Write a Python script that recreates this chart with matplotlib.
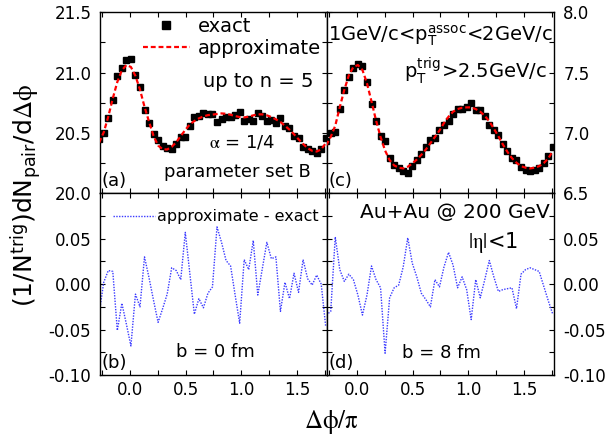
import matplotlib
matplotlib.use('Agg')
import matplotlib.pyplot as plt
import numpy as np
from matplotlib.ticker import MultipleLocator, FormatStrFormatter, FixedLocator
from matplotlib.lines import Line2D

plt.rcParams['font.family'] = 'DejaVu Sans'
plt.rcParams['mathtext.fontset'] = 'stix'
plt.rcParams['axes.unicode_minus'] = False

# delta phi / pi grid (51 bins)
dphi = np.linspace(-0.277, 1.759, 51)

# b = 0 fm, panel (a)/(b)
approx_b0 = [20.420, 20.505, 20.635, 20.786, 20.923, 21.019, 21.063, 21.047, 20.973, 20.860,
             20.717, 20.593, 20.475, 20.396, 20.365, 20.363, 20.385, 20.423, 20.475, 20.525,
             20.571, 20.599, 20.621, 20.637, 20.648, 20.652, 20.657, 20.662, 20.659, 20.651,
             20.640, 20.632, 20.629, 20.635, 20.646, 20.654, 20.654, 20.646, 20.632, 20.613,
             20.591, 20.560, 20.527, 20.489, 20.448, 20.409, 20.374, 20.352, 20.346, 20.365,
             20.415]
exact_b0 = [20.452, 20.503, 20.620, 20.772, 20.974, 21.040, 21.107, 21.115, 20.984, 20.885,
            20.687, 20.586, 20.493, 20.438, 20.392, 20.374, 20.367, 20.408, 20.470, 20.468,
            20.559, 20.632, 20.637, 20.663, 20.658, 20.655, 20.594, 20.616, 20.633, 20.631,
            20.652, 20.675, 20.602, 20.619, 20.598, 20.666, 20.637, 20.600, 20.604, 20.583,
            20.621, 20.558, 20.543, 20.477, 20.457, 20.382, 20.368, 20.353, 20.336, 20.365,
            20.462]
diff_b0 = [-0.032, 0.002, 0.015, 0.014, -0.051, -0.021, -0.044, -0.068, -0.011, -0.025,
           0.030, 0.007, -0.018, -0.042, -0.027, -0.011, 0.018, 0.015, 0.005, 0.057,
           0.012, -0.033, -0.016, -0.026, -0.010, -0.003, 0.063, 0.046, 0.026, 0.020,
           -0.012, -0.043, 0.027, 0.016, 0.048, -0.012, 0.017, 0.046, 0.028, 0.030,
           -0.030, 0.002, -0.016, 0.012, -0.009, 0.027, 0.006, -0.001, 0.010, 0.000,
           -0.047]

# b = 8 fm, panel (c)/(d)
approx_b8 = [6.898, 6.967, 7.060, 7.214, 7.357, 7.478, 7.547, 7.563, 7.522, 7.412,
             7.261, 7.104, 6.967, 6.854, 6.775, 6.731, 6.712, 6.706, 6.720, 6.747,
             6.780, 6.819, 6.863, 6.915, 6.967, 7.020, 7.082, 7.135, 7.176, 7.198,
             7.209, 7.212, 7.212, 7.198, 7.176, 7.143, 7.096, 7.036, 6.973, 6.904,
             6.843, 6.791, 6.753, 6.725, 6.712, 6.706, 6.712, 6.725, 6.750, 6.788,
             6.850]
exact_b8 = [6.932, 6.997, 7.008, 7.198, 7.354, 7.467, 7.542, 7.575, 7.556, 7.424,
            7.241, 7.099, 6.971, 6.930, 6.790, 6.735, 6.713, 6.687, 6.669, 6.724,
            6.772, 6.829, 6.880, 6.940, 6.962, 7.023, 7.063, 7.100, 7.155, 7.202,
            7.201, 7.218, 7.251, 7.193, 7.191, 7.138, 7.070, 7.028, 6.981, 6.910,
            6.848, 6.795, 6.780, 6.714, 6.696, 6.688, 6.696, 6.711, 6.752, 6.806,
            6.883]
diff_b8 = [-0.034, -0.030, 0.052, 0.016, 0.003, 0.011, 0.005, -0.012, -0.034, -0.012,
           0.020, 0.005, -0.004, -0.076, -0.015, -0.004, -0.001, 0.019, 0.051, 0.023,
           0.008, -0.010, -0.017, -0.025, 0.005, -0.003, 0.019, 0.035, 0.021, -0.004,
           0.008, -0.006, -0.039, 0.005, -0.015, 0.005, 0.026, 0.008, -0.008, -0.006,
           -0.005, -0.004, -0.027, 0.011, 0.016, 0.018, 0.016, 0.014, -0.002, -0.018,
           -0.033]

red = '#ff0000'
blue = '#3a3aff'
dash = (0, (2.2, 1.3))
dots = (0, (1, 1))

fig = plt.figure(figsize=(6.15, 4.38), dpi=100)
axa = fig.add_axes([0.1631, 0.5587, 0.3691, 0.4132])
axc = fig.add_axes([0.5322, 0.5587, 0.3691, 0.4132])
axb = fig.add_axes([0.1631, 0.1438, 0.3691, 0.4149])
axd = fig.add_axes([0.5322, 0.1438, 0.3691, 0.4149])


def style(ax, ylim, ymajor, yminor, yfmt, right=False, bottom=False):
    ax.set_xlim(-0.267, 1.773)
    ax.set_ylim(*ylim)
    ax.xaxis.set_major_locator(FixedLocator([0.0, 0.5, 1.0, 1.5]))
    ax.xaxis.set_minor_locator(MultipleLocator(0.25))
    ax.xaxis.set_major_formatter(FormatStrFormatter('%.1f'))
    ax.yaxis.set_major_locator(FixedLocator(ymajor))
    ax.yaxis.set_minor_locator(MultipleLocator(yminor))
    ax.yaxis.set_major_formatter(FormatStrFormatter(yfmt))
    ax.tick_params(which='both', direction='in', top=True, bottom=True, left=True, right=True,
                   length=3.6, width=0.8, labelsize=12)
    ax.tick_params(axis='y', pad=6.5)
    ax.tick_params(axis='x', pad=4.5)
    ax.tick_params(labelbottom=bottom, labelleft=not right, labelright=right)
    for s in ax.spines.values():
        s.set_linewidth(1.0)


style(axa, (20.0, 21.5), [20.0, 20.5, 21.0, 21.5], 0.25, '%.1f')
style(axc, (6.5, 8.0), [6.5, 7.0, 7.5, 8.0], 0.25, '%.1f', right=True)
style(axb, (-0.1, 0.1), [-0.10, -0.05, 0.0, 0.05], 0.025, '%.2f', bottom=True)
style(axd, (-0.1, 0.1), [-0.10, -0.05, 0.0, 0.05], 0.025, '%.2f', right=True, bottom=True)

# top panels
for ax, ex, ap in [(axa, exact_b0, approx_b0), (axc, exact_b8, approx_b8)]:
    ax.plot(dphi, ex, 's', color='black', markersize=5, zorder=2)
    ax.plot(dphi, ap, color=red, lw=1.6, linestyle=dash, zorder=3)

# bottom panels
for ax, d in [(axb, diff_b0), (axd, diff_b8)]:
    ax.plot(dphi, d, color=blue, lw=1.0, linestyle=dots)

# legend (a)
h_ex = Line2D([], [], marker='s', color='black', linestyle='none', markersize=6)
h_ap = Line2D([], [], color=red, lw=1.6, linestyle=dash)
axa.legend([h_ex, h_ap], ['exact', 'approximate'], loc='upper left',
           bbox_to_anchor=(0.188, 0.975), frameon=False, fontsize=14, numpoints=1,
           handlelength=2.4, handletextpad=0.4, labelspacing=0.15,
           borderpad=0, borderaxespad=0)
axa.text(0.695, 0.615, 'up to n = 5', transform=axa.transAxes, fontsize=14,
         ha='center', va='center')
axa.text(0.624, 0.283, r'$\mathrm{\alpha}$ = 1/4', transform=axa.transAxes, fontsize=13,
         ha='center', va='center')
axa.text(0.602, 0.118, 'parameter set B', transform=axa.transAxes, fontsize=13,
         ha='center', va='center')
axa.text(0.007, 0.068, '(a)', transform=axa.transAxes, fontsize=13, ha='left', va='center')

# texts (c)
axc.text(0.004, 0.847, r'1GeV/c<p$_{\mathregular{T}}^{\mathregular{assoc}}$<2GeV/c',
         transform=axc.transAxes, fontsize=14, ha='left', va='baseline')
axc.text(0.968, 0.637, r'p$_{\mathregular{T}}^{\mathregular{trig}}$>2.5GeV/c',
         transform=axc.transAxes, fontsize=14, ha='right', va='baseline')
axc.text(0.007, 0.068, '(c)', transform=axc.transAxes, fontsize=13, ha='left', va='center')

# legend (b)
h_df = Line2D([], [], color=blue, lw=1.0, linestyle=dots)
axb.legend([h_df], ['approximate - exact'], loc='center left', bbox_to_anchor=(0.056, 0.87),
           frameon=False, fontsize=11.5, handlelength=2.6, handletextpad=0.15,
           borderpad=0, borderaxespad=0)
axb.text(0.508, 0.128, 'b = 0 fm', transform=axb.transAxes, fontsize=13, ha='center', va='center')
axb.text(0.007, 0.066, '(b)', transform=axb.transAxes, fontsize=13, ha='left', va='center')

# texts (d)
axd.text(0.981, 0.892, 'Au+Au @ 200 GeV', transform=axd.transAxes, fontsize=14.5,
         ha='right', va='center')
axd.text(0.73, 0.727, r'$\mathrm{|\eta|}$<1', transform=axd.transAxes, fontsize=15,
         ha='center', va='center')
axd.text(0.504, 0.119, 'b = 8 fm', transform=axd.transAxes, fontsize=13, ha='center', va='center')
axd.text(0.007, 0.066, '(d)', transform=axd.transAxes, fontsize=13, ha='left', va='center')

# axis titles
fig.text(0.043, 0.553,
         r'(1/N$^{\mathregular{trig}}$)dN$_{\mathregular{pair}}$/d$\mathrm{\Delta\phi}$',
         rotation=90, ha='center', va='center', fontsize=18)
fig.text(0.538, 0.037, r'$\mathrm{\Delta\phi/\pi}$', ha='center', va='center', fontsize=18)

fig.savefig('out.png', dpi=100)
